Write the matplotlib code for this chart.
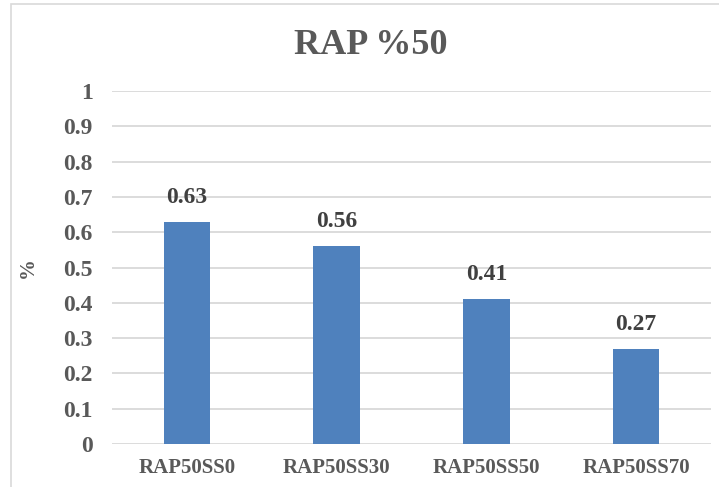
import matplotlib.pyplot as plt
from matplotlib.patches import Rectangle

categories = ['RAP50SS0', 'RAP50SS30', 'RAP50SS50', 'RAP50SS70']
values = [0.63, 0.56, 0.41, 0.27]
yticks = [0, 0.1, 0.2, 0.3, 0.4, 0.5, 0.6, 0.7, 0.8, 0.9, 1]
ytick_labels = ['0', '0.1', '0.2', '0.3', '0.4', '0.5', '0.6', '0.7', '0.8', '0.9', '1']

plt.rcParams['font.family'] = ['Liberation Serif', 'DejaVu Serif']
plt.rcParams['font.weight'] = 'bold'

txt = '#595959'

fig = plt.figure(figsize=(7.19, 4.87), dpi=100)
ax = fig.add_axes([0.1558, 0.0883, 0.833, 0.7248])

# outer frame of the chart area
fig.patches.append(Rectangle((11 / 719, -0.1), 1.2, 1 - 4 / 487 + 0.1,
                             transform=fig.transFigure, fill=False,
                             edgecolor='#d9d9d9', linewidth=1.2))

x = range(len(categories))
bars = ax.bar(x, values, width=0.31, color='#4f81bd', zorder=3)

for b, v in zip(bars, values):
    ax.annotate(f'{v:.2f}', (b.get_x() + b.get_width() / 2, v),
                xytext=(0, 10), textcoords='offset points',
                ha='center', va='bottom', fontsize=17, fontweight='bold',
                color='#404040')

ax.set_xlim(-0.5, len(categories) - 0.5)
ax.set_ylim(0, 1)
ax.set_yticks(yticks)
ax.set_yticklabels(ytick_labels)
ax.set_xticks(list(x))
ax.set_xticklabels(categories)
ax.tick_params(axis='y', length=0, pad=14, labelsize=17, labelcolor=txt)
ax.tick_params(axis='x', length=0, pad=10, labelsize=15, labelcolor=txt)
for lab in ax.get_xticklabels() + ax.get_yticklabels():
    lab.set_fontweight('bold')

ax.grid(axis='y', color='#d9d9d9', linewidth=1.3, zorder=0)
for s in ax.spines.values():
    s.set_visible(False)

ax.set_ylabel('%', fontsize=15, fontweight='bold', color=txt, labelpad=18)

fig.text(371 / 719, 1 - 46 / 487, 'RAP %50', ha='center', va='center',
         fontsize=26, fontweight='bold', color=txt)

fig.savefig('out.png', dpi=100)
